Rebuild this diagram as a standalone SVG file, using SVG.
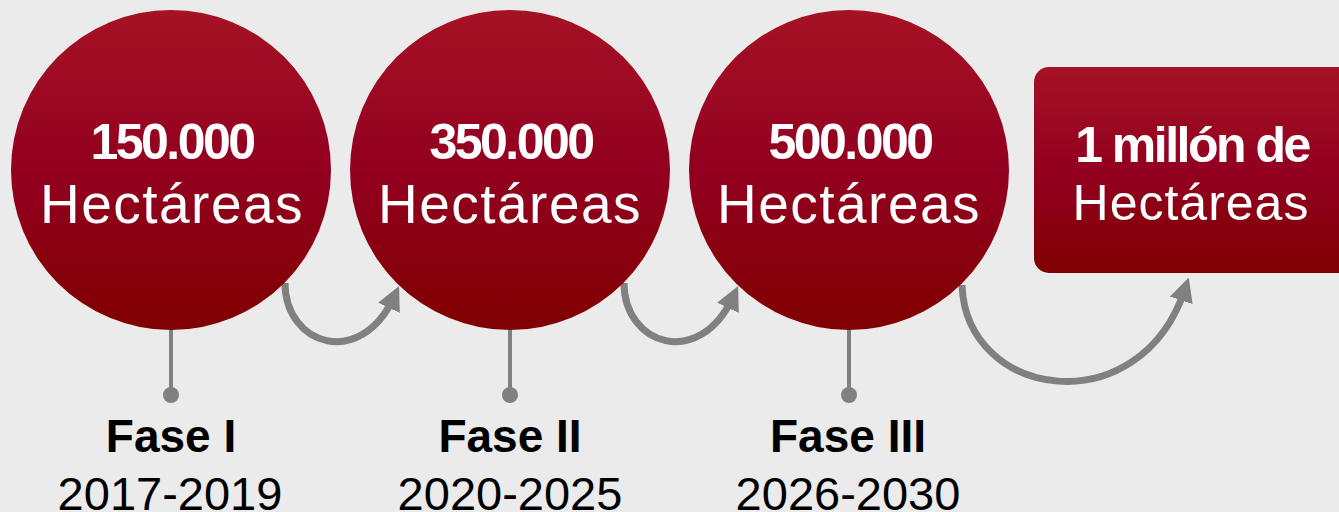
<svg xmlns="http://www.w3.org/2000/svg" width="1339" height="512" viewBox="0 0 1339 512">
<defs>
<linearGradient id="red" x1="0" y1="0" x2="0" y2="1">
<stop offset="0" stop-color="#a51224"/>
<stop offset="0.5" stop-color="#930020"/>
<stop offset="1" stop-color="#800000"/>
</linearGradient>
<marker id="ah" viewBox="0 0 24 24" refX="12" refY="12" markerWidth="24" markerHeight="24" markerUnits="userSpaceOnUse" orient="auto">
<path d="M0,0 L24,12 L0,24 z" fill="#808080"/>
</marker>
</defs>
<style>
.node{fill:url(#red)}
.num{font-family:"Liberation Sans",Arial,sans-serif;font-weight:bold;font-size:50px;fill:#fff;text-anchor:middle;letter-spacing:-2.5px}
.hec{font-family:"Liberation Sans",Arial,sans-serif;font-size:55px;fill:#fff;text-anchor:middle;letter-spacing:1.5px}
.fase{font-family:"Liberation Sans",Arial,sans-serif;font-weight:bold;font-size:46px;fill:#000;text-anchor:middle}
.yr{font-family:"Liberation Sans",Arial,sans-serif;font-size:47px;fill:#000;text-anchor:middle}
.arc{fill:none;stroke:#808080;stroke-width:7;marker-end:url(#ah)}
.stem{stroke:#808080;stroke-width:4}
.dot{fill:#808080}
</style>
<rect width="1339" height="512" fill="#ebebeb"/>
<g id="connectors">
<line class="stem" x1="171" y1="328" x2="171" y2="395"/>
<circle class="dot" cx="171" cy="395" r="8"/>
<line class="stem" x1="510" y1="328" x2="510" y2="395"/>
<circle class="dot" cx="510" cy="395" r="8"/>
<line class="stem" x1="849" y1="328" x2="849" y2="395"/>
<circle class="dot" cx="849" cy="395" r="8"/>
<path class="arc" d="M285,283 C285,345 360,370 394,297"/>
<path class="arc" d="M624,283 C624,345 699,370 733,297"/>
<path class="arc" d="M962,285 C966,400 1140,425 1185,289"/>
</g>
<g id="node1">
<circle class="node" cx="171" cy="170" r="160"/>
<text class="num" x="172" y="159">150.000</text>
<text class="hec" x="172" y="223">Hectáreas</text>
</g>
<g id="node2">
<circle class="node" cx="510" cy="170" r="160"/>
<text class="num" x="511" y="159">350.000</text>
<text class="hec" x="510" y="223">Hectáreas</text>
</g>
<g id="node3">
<circle class="node" cx="849" cy="170" r="160"/>
<text class="num" x="850" y="159">500.000</text>
<text class="hec" x="849" y="223">Hectáreas</text>
</g>
<g id="node4">
<rect class="node" x="1034" y="67" width="320" height="206" rx="15"/>
<text class="num" x="1192" y="162">1 millón de</text>
<text class="hec" x="1191" y="220" style="font-size:50px;letter-spacing:1px">Hectáreas</text>
</g>
<g id="phase1">
<text class="fase" x="171" y="452">Fase I</text>
<text class="yr" x="170" y="510">2017-2019</text>
</g>
<g id="phase2">
<text class="fase" x="510" y="452">Fase II</text>
<text class="yr" x="510" y="510">2020-2025</text>
</g>
<g id="phase3">
<text class="fase" x="848" y="452">Fase III</text>
<text class="yr" x="848" y="510">2026-2030</text>
</g>
</svg>
